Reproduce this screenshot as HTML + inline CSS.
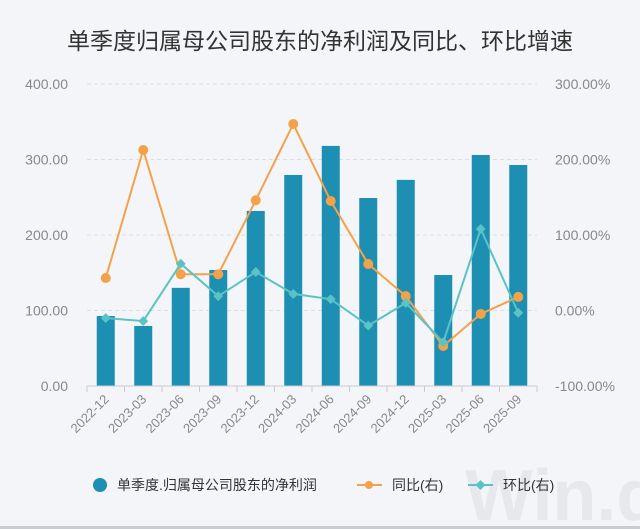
<!DOCTYPE html>
<html><head><meta charset="utf-8"><style>
body{margin:0;background:#f3f5f8;}
svg{display:block;font-family:"Liberation Sans","Noto Sans CJK SC",sans-serif;}
</style></head><body>
<svg width="640" height="529" viewBox="0 0 640 529">
<rect width="640" height="529" fill="#f3f5f8"/>
<rect y="526" width="640" height="3" fill="#c9ccd0"/>
<text x="465" y="520" font-size="72" fill="#e6e8eb" font-weight="bold">Win.d</text>
<text x="320" y="49" text-anchor="middle" font-size="23" fill="#333">单季度归属母公司股东的净利润及同比、环比增速</text>
<g id="grid"></g><g id="bars"></g><g id="lines"></g><g id="axes"></g>
<g font-size="14" fill="#333">
<circle cx="100" cy="485" r="7" fill="#1d8fb3"/>
<text x="117" y="490">单季度.归属母公司股东的净利润</text>
<line x1="357" y1="485" x2="382" y2="485" stroke="#f4a24a" stroke-width="2"/><circle cx="369" cy="485" r="4" fill="#f4a24a"/>
<text x="392" y="490">同比(右)</text>
<line x1="468" y1="485" x2="493" y2="485" stroke="#5cc3c4" stroke-width="2"/><rect x="477" y="481.5" width="7" height="7" fill="#5cc3c4" transform="rotate(45 480.5 485)"/>
<text x="503" y="490">环比(右)</text>
</g>
</svg>
<script>
const categories=["2022-12","2023-03","2023-06","2023-09","2023-12","2024-03","2024-06","2024-09","2024-12","2025-03","2025-06","2025-09"];
const profit=[92.7,79.5,130,153.6,231.8,279.5,318,249,273,147,306,292.7];
const yoy=[43,212.6,48,48,146,247,145,61.6,19,-47,-4.6,18];
const qoq=[-10,-14,62,19,51,22,15,-20,10,-42,108,-3];
const leftTicks=["0.00","100.00","200.00","300.00","400.00"];
const rightTicks=["-100.00%","0.00%","100.00%","200.00%","300.00%"];
const NS="http://www.w3.org/2000/svg";
const X0=87,X1=537,Y0=386,Y1=84;
const bw=(X1-X0)/categories.length;
const xc=i=>X0+bw*(i+0.5);
const yl=v=>Y0-(v/400)*(Y0-Y1);
const yr=v=>Y0-((v+100)/400)*(Y0-Y1);
function mk(t,a,p){const e=document.createElementNS(NS,t);for(const k in a)e.setAttribute(k,a[k]);p.appendChild(e);return e;}
const grid=document.getElementById('grid'),bars=document.getElementById('bars'),lines=document.getElementById('lines'),axes=document.getElementById('axes');
leftTicks.forEach((t,i)=>{const y=Y0-i*(Y0-Y1)/4;
 if(i>0){const g=mk('line',{x1:X0,x2:X1,y1:y,y2:y,stroke:'#dde0e4','stroke-dasharray':'4 3'},grid);}
 const a=mk('text',{x:68,y:y+5,'text-anchor':'end','font-size':14,fill:'#888'},axes);a.textContent=t;
 const b=mk('text',{x:555,y:y+5,'font-size':14,fill:'#888'},axes);b.textContent=rightTicks[i];});
const ax=mk('line',{x1:X0,x2:X1,y1:Y0,y2:Y0,stroke:'#c8ccd0'},axes);
for(let i=0;i<=categories.length;i++){const t=mk('line',{x1:X0+i*bw,x2:X0+i*bw,y1:Y0,y2:Y0+6,stroke:'#c8ccd0'},axes);}
categories.forEach((c,i)=>{const x=xc(i)+4,y=Y0+14;
 const t=mk('text',{x:x,y:y,'text-anchor':'end','font-size':13,fill:'#888',transform:`rotate(-45 ${x} ${y})`},axes);t.textContent=c;
 const r=mk('rect',{x:xc(i)-9,y:yl(profit[i]),width:18,height:Y0-yl(profit[i]),fill:'#1d8fb3'},bars);});
function series(vals,color,name,diamond){
 const p=mk('polyline',{points:vals.map((v,i)=>xc(i)+','+yr(v)).join(' '),fill:'none',stroke:color,'stroke-width':2},lines);
 vals.forEach((v,i)=>{let m;if(diamond){m=mk('rect',{x:xc(i)-3.5,y:yr(v)-3.5,width:7,height:7,fill:color,transform:`rotate(45 ${xc(i)} ${yr(v)})`},lines);}else{m=mk('circle',{cx:xc(i),cy:yr(v),r:5,fill:color},lines);}
 });}
series(yoy,'#f4a24a','yoy',false);
series(qoq,'#5cc3c4','qoq',true);
</script>
</body></html>
